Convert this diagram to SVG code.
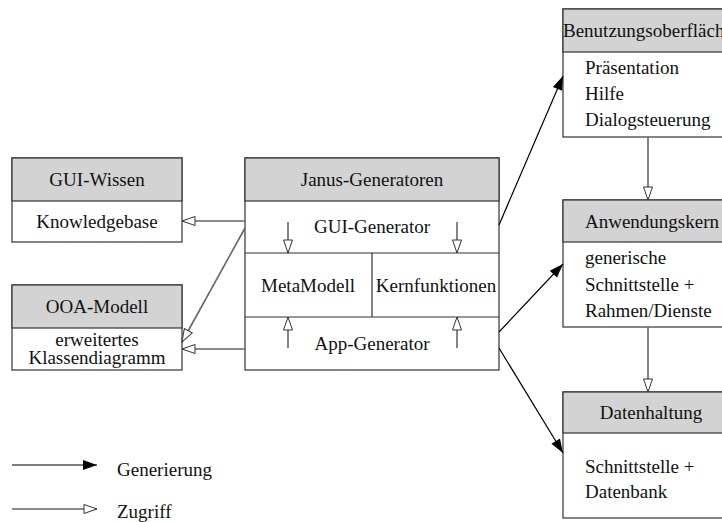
<svg xmlns="http://www.w3.org/2000/svg" width="722" height="522" viewBox="0 0 722 522">
<defs>
<style>
text{font-family:"Liberation Serif","Times New Roman",serif;font-size:19px;fill:#111}
.c{text-anchor:middle}
.box{fill:#fff;stroke:#333;stroke-width:1.2}
.hdr{fill:#d3d3d3;stroke:#333;stroke-width:1.2}
.div{stroke:#333;stroke-width:1.2;fill:none}
.gen{stroke:#000;stroke-width:1.2;fill:none;marker-end:url(#filled)}
.acc{stroke:#666;stroke-width:1.6;fill:none;marker-end:url(#hollow)}
</style>
<marker id="filled" markerUnits="userSpaceOnUse" markerWidth="16" markerHeight="12" refX="14" refY="5" orient="auto" overflow="visible">
<path d="M0,0 L14,5 L0,10 z" fill="#000"/>
</marker>
<marker id="hollow" markerUnits="userSpaceOnUse" markerWidth="16" markerHeight="12" refX="13" refY="5" orient="auto" overflow="visible">
<path d="M0,0.5 L13,5 L0,9.5 z" fill="#fff" stroke="#333" stroke-width="1"/>
</marker>
</defs>
<rect width="722" height="522" fill="#fff"/>

<g id="gui-wissen">
<rect class="box" x="12" y="158" width="170" height="84"/>
<rect class="hdr" x="12" y="158" width="170" height="43"/>
<text class="c" x="97" y="186">GUI-Wissen</text>
<text class="c" x="97" y="228">Knowledgebase</text>
</g>

<g id="ooa-modell">
<rect class="box" x="12" y="285" width="170" height="85"/>
<rect class="hdr" x="12" y="285" width="170" height="43"/>
<text class="c" x="97" y="313">OOA-Modell</text>
<text class="c" x="97" y="346">erweitertes</text>
<text class="c" x="97" y="364">Klassendiagramm</text>
</g>

<g id="janus">
<rect class="box" x="245" y="158" width="254" height="212"/>
<rect class="hdr" x="245" y="158" width="254" height="43"/>
<line class="div" x1="245" y1="253" x2="499" y2="253"/>
<line class="div" x1="245" y1="317" x2="499" y2="317"/>
<line class="div" x1="372" y1="253" x2="372" y2="317"/>
<text class="c" x="372" y="186">Janus-Generatoren</text>
<text class="c" x="372" y="233">GUI-Generator</text>
<text class="c" x="308" y="292">MetaModell</text>
<text class="c" x="436" y="292">Kernfunktionen</text>
<text class="c" x="372" y="350">App-Generator</text>
</g>

<g id="benutzungsoberflaeche">
<rect class="box" x="563" y="9" width="178" height="128"/>
<rect class="hdr" x="563" y="9" width="178" height="43"/>
<text x="563" y="37">Benutzungsoberfläche</text>
<text x="585" y="74">Präsentation</text>
<text x="585" y="100">Hilfe</text>
<text x="585" y="126">Dialogsteuerung</text>
</g>

<g id="anwendungskern">
<rect class="box" x="563" y="200" width="178" height="127"/>
<rect class="hdr" x="563" y="200" width="178" height="42"/>
<text class="c" x="652" y="228">Anwendungskern</text>
<text x="585" y="264">generische</text>
<text x="585" y="291">Schnittstelle +</text>
<text x="585" y="317">Rahmen/Dienste</text>
</g>

<g id="datenhaltung">
<rect class="box" x="563" y="392" width="178" height="126"/>
<rect class="hdr" x="563" y="392" width="178" height="41"/>
<text class="c" x="651" y="419">Datenhaltung</text>
<text x="585" y="473">Schnittstelle +</text>
<text x="585" y="498">Datenbank</text>
</g>

<g id="connectors">
<line class="acc" x1="245" y1="221" x2="182" y2="221"/>
<line class="acc" x1="245" y1="228" x2="182" y2="342"/>
<line class="acc" x1="245" y1="349" x2="182" y2="349"/>
<line class="acc" x1="288" y1="222" x2="288" y2="253"/>
<line class="acc" x1="457" y1="222" x2="457" y2="253"/>
<line class="acc" x1="288" y1="348" x2="288" y2="317"/>
<line class="acc" x1="457" y1="348" x2="457" y2="317"/>
<line class="gen" x1="499" y1="225" x2="563" y2="76"/>
<line class="gen" x1="499" y1="332" x2="563" y2="264"/>
<line class="gen" x1="499" y1="348" x2="563" y2="453"/>
<line class="acc" x1="648" y1="137" x2="648" y2="200"/>
<line class="acc" x1="648" y1="327" x2="648" y2="392"/>
</g>

<g id="legend">
<line class="gen" x1="12" y1="465" x2="97" y2="465"/>
<text x="117" y="476">Generierung</text>
<line class="acc" x1="12" y1="509" x2="97" y2="509"/>
<text x="117" y="518">Zugriff</text>
</g>
</svg>
